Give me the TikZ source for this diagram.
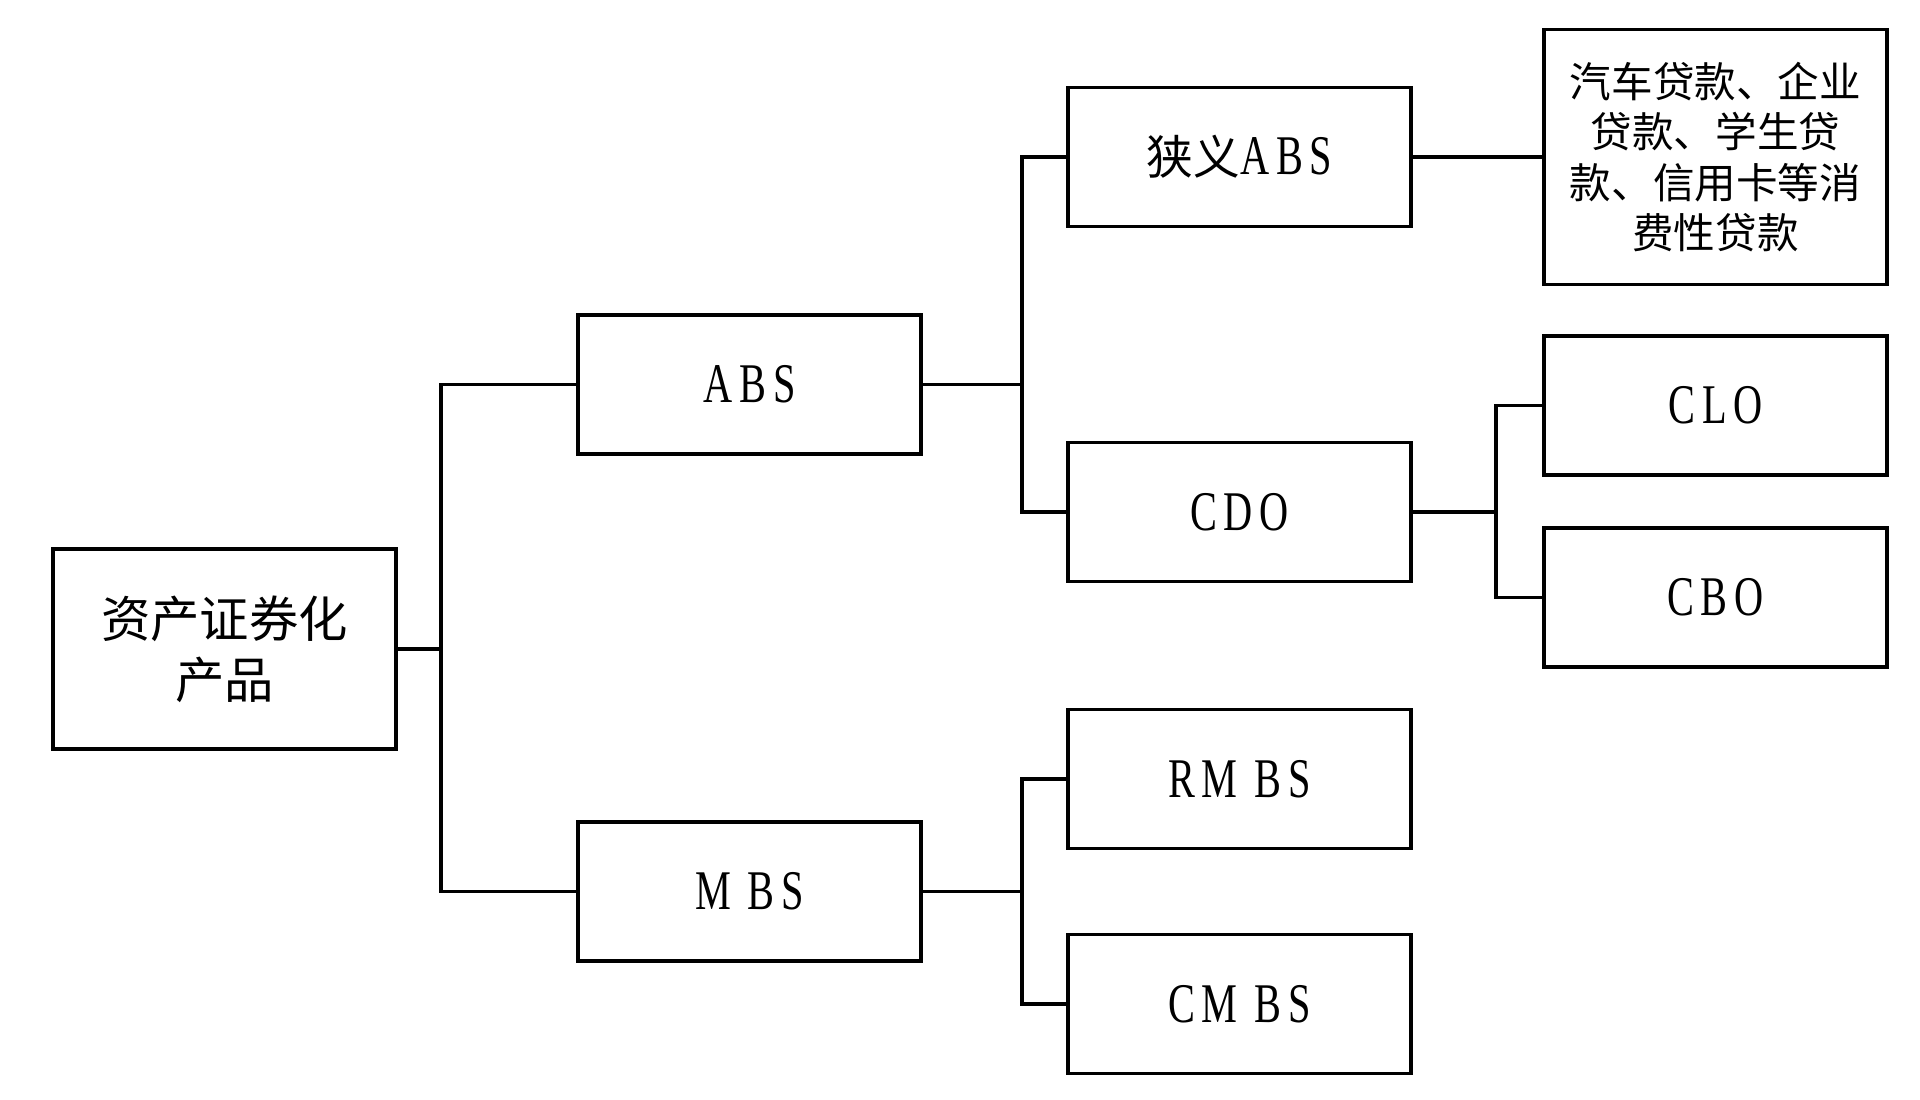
\documentclass[tikz,border=0pt]{standalone}
\usepackage{fontspec}
\newfontfamily\cjk{Noto Sans CJK SC}
\newfontfamily\lat[FakeStretch=0.72,LetterSpace=12]{Liberation Serif}
\begin{document}
\begin{tikzpicture}[x=0.375pt,y=-0.375pt,
  box/.style={draw,line width=1.2pt,minimum width=128.6pt,minimum height=52.1pt,inner sep=0pt,align=center,font=\lat\fontsize{21}{24}\selectfont},
  link/.style={line width=1.25pt}]
\useasboundingbox (0,0) rectangle (1920,1099);
\node[box,minimum height=75pt,font=\cjk\fontsize{18.5}{23}\selectfont] (root) at (224.5,649) {资产证券化\\产品};
\node[box] (abs) at (749.5,384.5) {ABS};
\node[box] (mbs) at (749.5,891.5) {M BS};
\node[box] (narrow) at (1239.5,157) {{\cjk\fontsize{17.5}{20}\selectfont 狭义}ABS};
\node[box] (cdo) at (1239.5,512) {CDO};
\node[box] (rmbs) at (1239.5,779) {RM BS};
\node[box] (cmbs) at (1239.5,1004) {CM BS};
\node[box,minimum height=95.6pt,text width=124pt,font=\cjk\fontsize{15.6}{18.8}\selectfont] (loans) at (1715.5,157) {汽车贷款、企业\\贷款、学生贷\\款、信用卡等消\\费性贷款};
\node[box] (clo) at (1715.5,405.5) {CLO};
\node[box] (cbo) at (1715.5,597.5) {CBO};
\coordinate (b1) at (441,649);
\coordinate (b2) at (1022,384.5);
\coordinate (b3) at (1022,891.5);
\coordinate (b4) at (1496,512);
\draw[link] (root.east) -- (b1) |- (abs.west);
\draw[link] (b1) |- (mbs.west);
\draw[link] (abs.east) -- (b2) |- (narrow.west);
\draw[link] (b2) |- (cdo.west);
\draw[link] (mbs.east) -- (b3) |- (rmbs.west);
\draw[link] (b3) |- (cmbs.west);
\draw[link] (narrow.east) -- (loans.west);
\draw[link] (cdo.east) -- (b4) |- (clo.west);
\draw[link] (b4) |- (cbo.west);
\end{tikzpicture}
\end{document}
